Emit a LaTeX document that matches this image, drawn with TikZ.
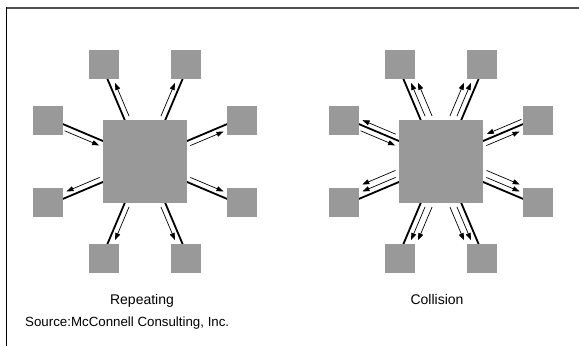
\documentclass[tikz,border=0pt]{standalone}
\usepackage{fontspec}
\setmainfont{Liberation Sans}
\usepackage{xcolor}
\usepackage{tikz}
\usetikzlibrary{calc,arrows.meta,backgrounds}
\definecolor{boxgray}{HTML}{999999}
\definecolor{framegray}{HTML}{505050}

\begin{document}
\begin{tikzpicture}[x=1pt,y=1pt,
    sat/.style={fill=boxgray,minimum size=29.5pt,inner sep=0pt},
    hub/.style={fill=boxgray,minimum size=83.5pt,inner sep=0pt},
    wire/.style={line width=1.8pt},
    flow/.style={line width=0.7pt,-{Triangle[length=7pt,width=5pt]}},
    caption/.style={anchor=base,inner sep=0pt,font=\fontsize{14}{16}\selectfont}]
    \useasboundingbox (0,0) rectangle (579,346);
    % frame
    \draw[framegray,line width=2pt] (6,338.3) -- (579,338.3);
    \draw[line width=1.2pt] (6.7,339.3) -- (6.7,0);
    % hubs
    \node[hub] (c1) at (145,184.5) {};
    \node[hub] (c2) at (441,184.5) {};
    % satellites
    \foreach \i/\dx/\dy in {1/97/41,2/41/97,3/-41/97,4/-97/41,5/-97/-41,6/-41/-97,7/41/-97,8/97/-41}{
        \node[sat] (l\i) at ($(c1)+(\dx,\dy)$) {};
        \node[sat] (r\i) at ($(c2)+(\dx,\dy)$) {};
    }
    % cables
    \begin{scope}[on background layer]
    \foreach \i/\a/\b in {1/90/-90,2/-90/90,3/90/-90,4/-90/90,5/90/-90,6/-90/90,7/90/-90,8/-90/90}{
        \draw[wire] ($(c1)!2.5pt!\a:(l\i)$) -- ($(l\i)!2.5pt!\b:(c1)$);
        \draw[wire] ($(c2)!2.5pt!\a:(r\i)$) -- ($(r\i)!2.5pt!\b:(c2)$);
    }
    \end{scope}
    % repeating
    \foreach \i/\b in {1/-90,2/90,3/-90,5/-90,6/90,7/-90,8/90}{
        \draw[flow] ($(c1)!48pt!(l\i)!3pt!\b:(l\i)$) -- ($(c1)!84pt!(l\i)!3pt!\b:(l\i)$);
    }
    \draw[flow] ($(c1)!86pt!(l4)!3pt!90:(l4)$) -- ($(c1)!48.5pt!(l4)!3pt!90:(l4)$);
    % collision
    \foreach \i/\b in {2/90,3/-90,5/-90,6/90,7/-90,8/90}{
        \draw[flow] ($(c2)!48pt!(r\i)!3pt!\b:(r\i)$) -- ($(c2)!84pt!(r\i)!3pt!\b:(r\i)$);
        \draw[flow] ($(c2)!45.5pt!(r\i)!9.5pt!\b:(r\i)$) -- ($(c2)!81.5pt!(r\i)!9.5pt!\b:(r\i)$);
    }
    \draw[flow] ($(c2)!48pt!(r1)!3pt!-90:(r1)$) -- ($(c2)!84pt!(r1)!3pt!-90:(r1)$);
    \draw[flow] ($(c2)!90.4pt!(r1)!7.5pt!90:(r1)$) -- ($(c2)!52.9pt!(r1)!7.5pt!90:(r1)$);
    \draw[flow] ($(c2)!86pt!(r4)!3pt!90:(r4)$) -- ($(c2)!48.5pt!(r4)!3pt!90:(r4)$);
    \draw[flow] ($(c2)!52.4pt!(r4)!7.5pt!-90:(r4)$) -- ($(c2)!88.4pt!(r4)!7.5pt!-90:(r4)$);
    % labels
    \node[caption] (rep) at (142,41.7) {Repeating};
    \node[caption] (col) at (437,41.7) {Collision};
    \node[anchor=base west,inner sep=0pt,font=\fontsize{13.3}{15}\selectfont] (src) at (25,20) {Source:McConnell Consulting, Inc.};
\end{tikzpicture}
\end{document}
